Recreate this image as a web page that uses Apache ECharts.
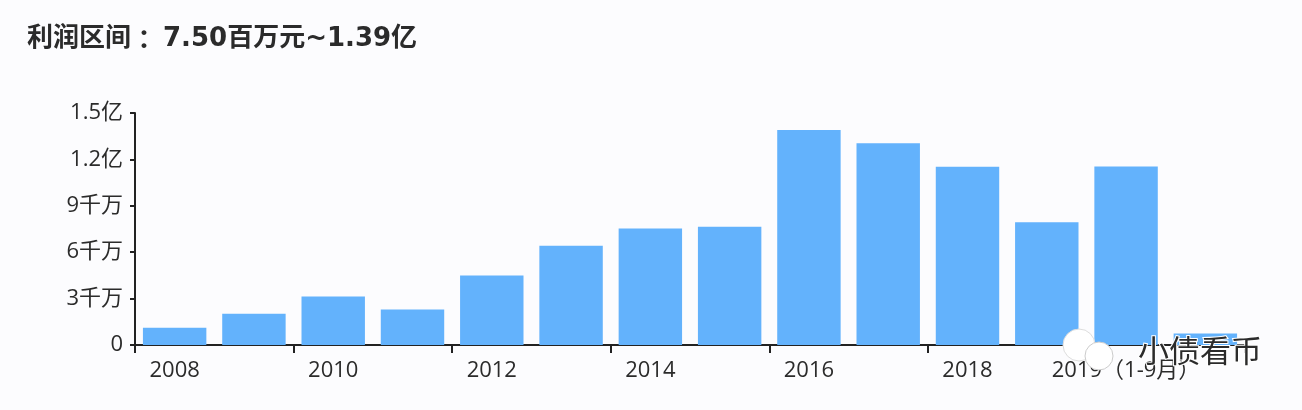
<!DOCTYPE html>
<html>
<head>
<meta charset="utf-8">
<script src="https://cdn.jsdelivr.net/npm/echarts@6/dist/echarts.min.js"></script>
<style>
html,body{margin:0;padding:0;background:#fcfcfe;}
#chart{width:1302px;height:410px;}
</style>
</head>
<body>
<div id="chart"></div>
<script>
var titleText = '利润区间：7.50百万元~1.39亿';
var categories = ['2008','2009','2010','2011','2012','2013','2014','2015','2016','2017','2018','2019','2019（1-9月）','2020（1-9月）'];
var profits = [11100000, 20200000, 31300000, 23000000, 45000000, 64200000, 75300000, 76400000, 139000000, 130400000, 115200000, 79400000, 115400000, 7500000];
var yTickValues = [0, 30000000, 60000000, 90000000, 120000000, 150000000];
var yTickLabels = ['0', '3千万', '6千万', '9千万', '1.2亿', '1.5亿'];
var watermarkText = '小债看币';

var font = '"Open Sans", "Noto Sans CJK SC", sans-serif';
var titleFont = '"DejaVu Sans", "Noto Sans CJK SC", sans-serif';
var titleParts = titleText.split('：');
var chart = echarts.init(document.getElementById('chart'));
chart.setOption({
  backgroundColor: '#fcfcfe',
  animation: false,
  title: {
    text: titleParts[0] + '{c|：}' + titleParts[1],
    left: 22,
    top: 21,
    textStyle: {
      fontFamily: titleFont, fontSize: 26, fontWeight: 'bold', color: '#2b2b2b',
      rich: {c: {fontFamily: '"Noto Sans CJK TC", sans-serif', fontSize: 26, fontWeight: 'bold', color: '#2b2b2b', padding: [0, 6, 0, 0]}}
    }
  },
  grid: {left: 135, right: 57, top: 113, bottom: 65, containLabel: false},
  xAxis: {
    type: 'category',
    data: categories,
    axisLine: {lineStyle: {color: '#222', width: 2}},
    axisTick: {show: true, interval: 1, length: 8, lineStyle: {color: '#222', width: 2}},
    axisLabel: {interval: 1, margin: 15, fontFamily: font, fontSize: 22, color: '#2b2b2b'}
  },
  yAxis: {
    type: 'value',
    min: 0, max: 150000000, interval: 30000000,
    axisLine: {show: true, lineStyle: {color: '#222', width: 2}},
    axisTick: {show: true, length: 5, lineStyle: {color: '#222', width: 2}},
    splitLine: {show: false},
    axisLabel: {
      margin: 12, fontFamily: font, fontSize: 22, color: '#2b2b2b',
      formatter: function (v) {
        var i = yTickValues.indexOf(v);
        return i >= 0 ? yTickLabels[i] : '';
      }
    }
  },
  series: [{
    type: 'bar',
    data: profits,
    barCategoryGap: '20%',
    itemStyle: {color: '#63b2fc'}
  }],
  graphic: [
    {type: 'circle', z: 99, shape: {cx: 1079, cy: 345, r: 16}, style: {fill: '#ffffff', stroke: '#dddddd', lineWidth: 1}},
    {type: 'circle', z: 99, shape: {cx: 1099, cy: 356, r: 14}, style: {fill: '#ffffff', stroke: '#cccccc', lineWidth: 1}},
    {
      type: 'text', left: 1137, top: 334, z: 100,
      style: {text: watermarkText, fontFamily: '"Noto Sans CJK SC", sans-serif', fontSize: 31, fill: '#2b2b2b', stroke: '#ffffff', lineWidth: 2}
    }
  ]
});
</script>
</body>
</html>
